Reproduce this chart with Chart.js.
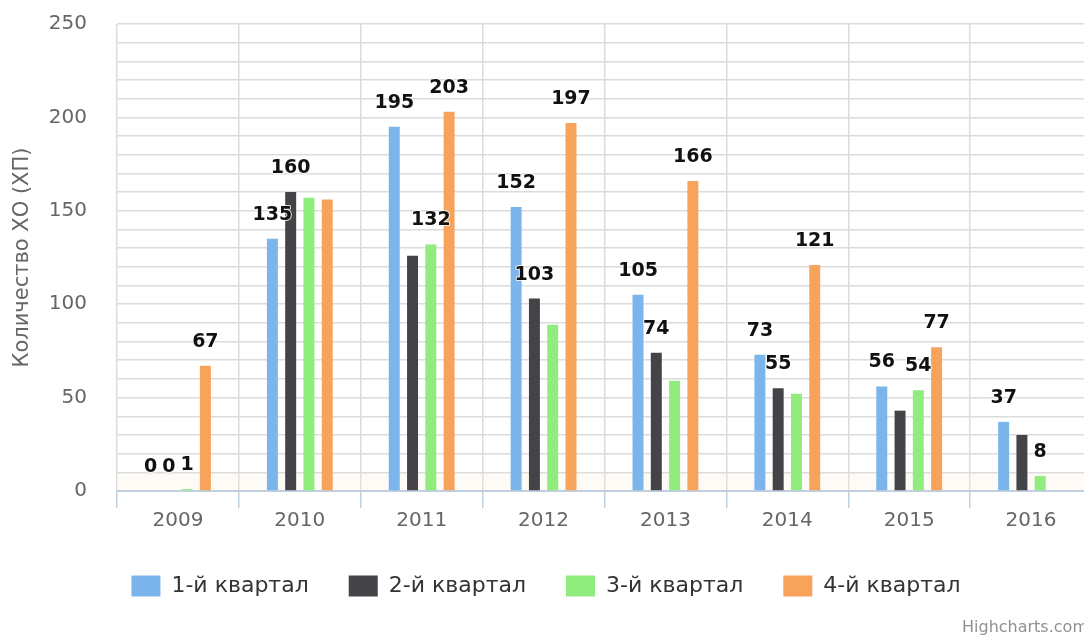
<!DOCTYPE html>
<html><head><meta charset="utf-8">
<script src="https://cdn.jsdelivr.net/npm/chart.js@4/dist/chart.umd.min.js"></script>
<style>html,body{margin:0;padding:0;background:#fff;overflow:hidden;} #wrap{position:relative;width:1100px;height:637px;}</style>
</head><body><div id="wrap"><canvas id="c"></canvas></div>
<script>
const categories = ['2009','2010','2011','2012','2013','2014','2015','2016'];
const seriesNames = ['1-й квартал','2-й квартал','3-й квартал','4-й квартал'];
const q1 = [0,135,195,152,105,73,56,37];
const q2 = [0,160,126,103,74,55,43,30];
const q3 = [1,157,132,89,59,52,54,8];
const q4 = [67,156,203,197,166,121,77,null];
// which data labels are visible in the reference (others hidden by overlap)
const q1Labels = [true,true,true,true,true,true,true,true];
const q2Labels = [true,true,false,true,true,true,false,false];
const q3Labels = [true,false,true,false,false,false,true,true];
const q4Labels = [true,false,true,true,true,true,true,false];
const yTickLabels = [0,50,100,150,200,250];
const yMin = 0, yMax = 250, yMinorStep = 10;
const plotBandTo = 9;
const axisTitle = 'Количество ХО (ХП)';
const creditText = 'Highcharts.com';
const colors = ['#7cb5ec','#434348','#90ed7d','#f7a35c'];

const FONT = '"DejaVu Sans", Verdana, sans-serif';
const seriesValues = [q1,q2,q3,q4];
const seriesLabels = [q1Labels,q2Labels,q3Labels,q4Labels];

const bandPlugin = {
  id:'band',
  beforeDatasetsDraw(chart){
    const {ctx, chartArea:a, scales:{y}} = chart;
    const top = y.getPixelForValue(plotBandTo), bot = y.getPixelForValue(0);
    ctx.save(); ctx.fillStyle='rgba(250,235,215,0.25)';
    ctx.fillRect(a.left, top, a.right-a.left, bot-top-1); ctx.restore();
  }
};
const labelPlugin = {
  id:'dlabels',
  afterDatasetsDraw(chart){
    const ctx = chart.ctx;
    ctx.save();
    ctx.font = 'bold 19px ' + FONT;
    ctx.textAlign='center'; ctx.textBaseline='alphabetic';
    ctx.lineJoin='round';
    chart.data.datasets.forEach((ds, di) => {
      const meta = chart.getDatasetMeta(di);
      meta.data.forEach((el, i) => {
        const v = ds.data[i];
        if (v === null || v === undefined || !seriesLabels[di][i]) return;
        ctx.strokeStyle='rgba(255,255,255,0.8)'; ctx.lineWidth=2;
        ctx.strokeText(String(v), el.x, el.y - 19);
        ctx.fillStyle='#111';
        ctx.fillText(String(v), el.x, el.y - 19);
      });
    });
    ctx.restore();
  }
};
const creditPlugin = {
  id:'credit',
  afterDraw(chart){
    const ctx = chart.ctx;
    ctx.save(); ctx.font='16px ' + FONT; ctx.fillStyle='#909090';
    ctx.textAlign='left'; ctx.textBaseline='middle';
    ctx.fillText(creditText, 962, 628); ctx.restore();
  }
};

new Chart(document.getElementById('c'), {
  type:'bar',
  data:{
    labels: categories,
    datasets: seriesNames.map((n,i)=>({
      label:n, data:seriesValues[i], backgroundColor:colors[i], borderWidth:0,
      barPercentage:0.6, categoryPercentage:0.6
    }))
  },
  options:{
    responsive:true, maintainAspectRatio:false, animation:false, devicePixelRatio:1,
    layout:{padding:{left:0,right:8,top:24,bottom:30}},
    plugins:{
      tooltip:{enabled:false},
      legend:{position:'bottom', labels:{boxWidth:29, boxHeight:21, padding:40, color:'#333', font:{family:FONT, size:22}}}
    },
    scales:{
      x:{
        offset:true,
        grid:{offset:true, color:'#DCDCDC', lineWidth:1.5, tickLength:17, tickColor:'#C0D0E0'},
        border:{color:'#C0D0E0', width:2},
        ticks:{color:'#666', font:{family:FONT, size:20}, padding:1, maxRotation:0, autoSkip:false},
        afterFit(s){ s.height = 44; }
      },
      y:{
        min:yMin, max:yMax,
        ticks:{stepSize:yMinorStep, autoSkip:false, padding:0, color:'#666', font:{family:FONT, size:20},
          callback:v => yTickLabels.includes(v) ? String(v) : ''},
        grid:{color:'#DCDCDC', lineWidth:1.5, drawTicks:true, tickLength:30, tickColor:'rgba(0,0,0,0)'},
        border:{display:false},
        title:{display:true, text:axisTitle, color:'#666', font:{family:FONT, size:21}, padding:{top:10,bottom:0}},
        afterFit(s){ s.width = 117; }
      }
    }
  },
  plugins:[bandPlugin, labelPlugin, creditPlugin]
});
</script></body></html>
